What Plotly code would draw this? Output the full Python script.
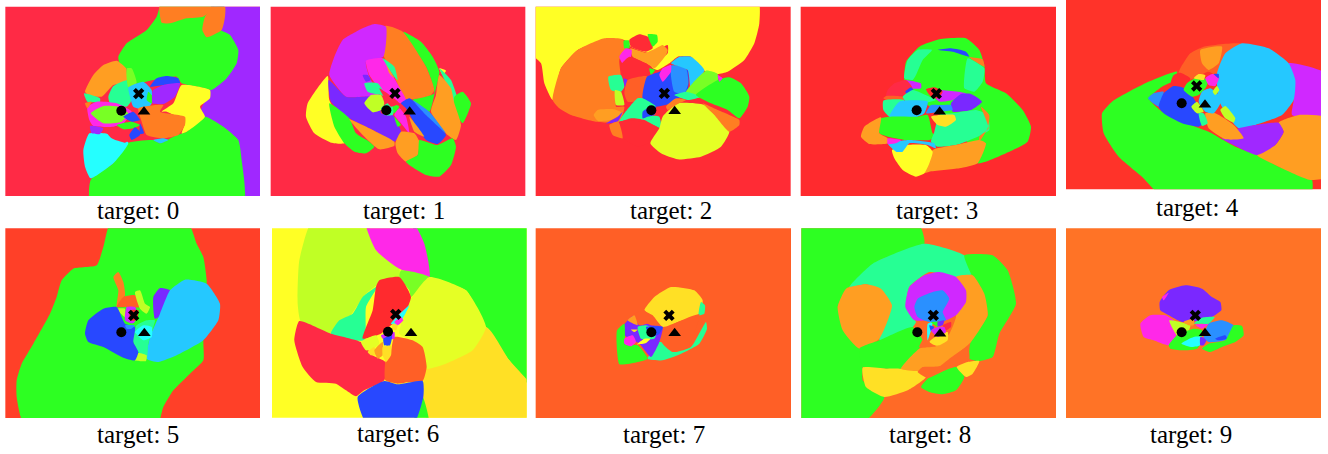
import plotly.graph_objects as go

WIDTH, HEIGHT = 1328, 454
W = 1000  # marks a frame corner outside the panel, clamped to the panel edge when drawn

TARGETS = [0, 1, 2, 3, 4, 5, 6, 7, 8, 9]
CROP_LEFT = [0, 266, 531, 796, 1062, 0, 266, 531, 796, 1062]
CROP_TOP = [0, 0, 0, 0, 0, 227, 227, 227, 227, 227]
X_RANGE = [(16, 780), (14, 778), (14, 779), (14, 780), (12, 777), (16, 780), (18, 782), (14, 780), (16, 780), (12, 777)]
Y_RANGE = [(588, 20), (588, 20), (588, 20), (588, 20), (568, 0), (573, 4), (572, 4), (573, 4), (573, 4), (573, 4)]
LABEL_X = [138, 404, 671, 937, 1197, 138, 398, 664, 930, 1191]
LABEL_Y = [210, 210, 210, 210, 207, 434, 433, 434, 434, 434]

CIRCLE_X = [364, 361, 361, 362, 359, 364, 366, 361, 364, 359]
CIRCLE_Y = [332, 331, 331, 331, 310, 316, 314, 316, 316, 316]
CROSS_X = [416, 387, 400, 421, 404, 401, 389, 414, 412, 400]
CROSS_Y = [281, 280, 280, 281, 258, 265, 262, 265, 265, 265]
TRI_X = [432, 431, 431, 431, 429, 433, 435, 431, 432, 429]
TRI_Y = [335, 335, 334, 335, 314, 319, 319, 319, 320, 319]

PALETTE = {
    "crimson": "#FF2A45", "rose": "#FF2B35", "red": "#FF2A2E", "scarlet": "#FF3329", "vermil": "#FF4028",
    "redorange": "#FF5F26", "tangerine": "#FF6A26", "pumpkin": "#FF7326", "orange": "#FF7E22", "amber": "#FF9E22",
    "gold": "#FFE025", "yellow": "#FFFF25", "yelime": "#E5FF25", "lime": "#C0FF25", "chart": "#78FF25",
    "green": "#2DFF22", "teal": "#26FF94", "cyan": "#25FFFF", "sky": "#25C8FF", "azure": "#2A90FF",
    "blue": "#2848FF", "violet": "#7A28FF", "purple": "#A028FF", "orchid": "#D028FF", "magenta": "#FF28E8",
}

BACKGROUND = ["crimson", "crimson", "rose", "red", "scarlet", "vermil", "yellow", "redorange", "tangerine", "pumpkin"]

REGIONS_0 = [
    ("purple", [(640, -W), (W, -W), (W, W), (700, W), (600, 340), (630, 270)]),
    ("green", [(490, -W), (470, 50), (440, 90), (380, 130), (355, 170), (360, 195), (385, 210), (405, 250), (460, 240), (530, 230), (545, 250), (600, 262), (635, 270), (680, 235), (710, 190), (715, 150), (690, 105), (655, 85), (675, -W)]),
    ("orange", [(478, 30), (485, 68), (510, 70), (560, 55), (610, 50), (640, 25), (640, -W), (480, -W)]),
    ("orange", [(640, 20), (675, 20), (675, 50), (665, 90), (620, 112), (607, 90), (615, 50)]),
    ("green", [(272, W), (272, 540), (340, 490), (380, 430), (460, 420), (480, 430), (530, 405), (560, 395), (615, 350), (670, 380), (715, 420), (725, 480), (730, W)]),
    ("cyan", [(268, 400), (250, 450), (255, 500), (272, 535), (340, 490), (385, 428), (315, 400)]),
    ("amber", [(255, 275), (280, 225), (310, 195), (350, 182), (378, 205), (380, 245), (340, 255), (305, 290), (265, 285)]),
    ("teal", [(252, 280), (300, 295), (300, 305), (262, 305)]),
    ("teal", [(325, 290), (340, 258), (385, 240), (395, 300), (380, 320), (330, 310)]),
    ("chart", [(380, 205), (395, 205), (410, 250), (385, 262)]),
    ("sky", [(385, 262), (430, 245), (455, 270), (455, 310), (440, 330), (400, 320), (390, 290)]),
    ("green", [(445, 275), (458, 290), (455, 310), (440, 300)]),
    ("blue", [(450, 260), (470, 235), (500, 228), (535, 235), (540, 250), (490, 255)]),
    ("purple", [(458, 272), (490, 255), (540, 250), (525, 290), (490, 312), (458, 310)]),
    ("yellow", [(485, 335), (520, 310), (545, 255), (630, 270), (630, 295), (600, 320), (615, 350), (560, 395), (545, 400), (555, 365), (500, 335)]),
    ("orange", [(415, 325), (490, 315), (480, 335), (555, 350), (555, 375), (535, 405), (490, 415), (440, 405), (425, 365)]),
    ("sky", [(460, 420), (490, 415), (505, 420), (480, 430)]),
    ("magenta", [(262, 320), (290, 305), (350, 310), (395, 335), (370, 370), (340, 380), (280, 378), (268, 360)]),
    ("chart", [(272, 340), (310, 318), (355, 320), (385, 340), (365, 365), (310, 370)]),
    ("orange", [(255, 310), (275, 305), (262, 325)]),
    ("purple", [(270, 378), (310, 385), (300, 402), (275, 400)]),
    ("crimson", [(315, 390), (345, 382), (385, 385), (388, 420), (375, 428), (335, 415)]),
    ("blue", [(370, 350), (400, 335), (420, 360), (395, 365)]),
    ("green", [(350, 375), (395, 365), (420, 375), (400, 385), (370, 388)]),
    ("blue", [(388, 405), (405, 382), (420, 395), (420, 405), (395, 420)]),
    ("blue", [(420, 370), (432, 400), (420, 402)]),
]

REGIONS_1 = [
    ("yellow", [(185, 228), (125, 310), (120, 350), (145, 400), (195, 428), (235, 430), (245, 400), (190, 300)]),
    ("yellow", [(520, 205), (540, 212), (530, 225)]),
    ("teal", [(520, 205), (555, 240), (590, 350), (570, 330), (540, 250)]),
    ("green", [(590, 275), (615, 310), (590, 370), (565, 330), (565, 290)]),
    ("green", [(412, 95), (465, 125), (500, 170), (520, 215), (505, 285), (490, 335), (440, 300), (505, 280), (480, 200)]),
    ("orange", [(358, 78), (410, 95), (480, 200), (505, 270), (495, 285), (420, 298), (385, 230), (350, 160)]),
    ("amber", [(520, 225), (555, 265), (565, 310), (585, 375), (570, 420), (545, 405), (495, 335), (510, 285)]),
    ("orchid", [(190, 225), (205, 170), (230, 120), (290, 85), (325, 72), (360, 80), (352, 170), (300, 185), (310, 230), (340, 290), (290, 290), (240, 290)]),
    ("violet", [(188, 240), (240, 290), (295, 290), (345, 290), (345, 340), (380, 345), (405, 395), (385, 425), (330, 395), (250, 355), (195, 305)]),
    ("green", [(190, 310), (250, 355), (270, 400), (310, 425), (325, 440), (300, 460), (265, 455), (235, 430), (205, 380)]),
    ("amber", [(250, 358), (330, 395), (385, 425), (385, 437), (340, 448), (290, 405)]),
    ("magenta", [(300, 182), (350, 175), (385, 235), (405, 270), (420, 300), (400, 310), (340, 265), (310, 225)]),
    ("amber", [(360, 190), (385, 235), (370, 220)]),
    ("teal", [(350, 175), (385, 200), (395, 240), (385, 230)]),
    ("violet", [(290, 225), (305, 225), (315, 240), (300, 245)]),
    ("teal", [(295, 250), (335, 250), (360, 290), (345, 285), (305, 275)]),
    ("lime", [(295, 310), (315, 285), (345, 285), (355, 310), (345, 330), (320, 337)]),
    ("teal", [(345, 325), (365, 310), (385, 320), (380, 345), (355, 345)]),
    ("green", [(380, 310), (400, 320), (385, 340)]),
    ("crimson", [(340, 265), (400, 310), (375, 320)]),
    ("magenta", [(385, 345), (400, 325), (420, 350), (430, 400), (405, 370)]),
    ("green", [(385, 350), (405, 375), (395, 380)]),
    ("blue", [(405, 310), (430, 295), (480, 340), (540, 405), (515, 432), (480, 420), (445, 370), (420, 325)]),
    ("azure", [(440, 300), (490, 335), (540, 400), (480, 345)]),
    ("amber", [(430, 350), (475, 410), (445, 395)]),
    ("amber", [(405, 395), (445, 400), (460, 425), (455, 465), (420, 485), (395, 460), (388, 430)]),
    ("green", [(480, 425), (515, 435), (560, 415), (570, 440), (555, 495), (520, 530), (480, 525), (420, 485), (455, 465), (460, 420)]),
]

REGIONS_2 = [
    ("yellow", [(-W, -W), (680, -W), (685, 70), (670, 130), (640, 180), (590, 215), (560, 222), (515, 210), (480, 170), (440, 170), (415, 190), (380, 210), (360, 200), (410, 160), (410, 135), (360, 160), (300, 140), (280, 120), (220, 120), (140, 150), (90, 205), (65, 300), (40, 250), (30, 190), (-W, 150)]),
    ("orange", [(65, 300), (90, 205), (140, 150), (220, 115), (275, 118), (285, 145), (265, 180), (270, 235), (255, 320), (280, 320), (265, 365), (195, 365), (120, 345), (85, 325)]),
    ("amber", [(188, 345), (200, 330), (250, 328), (275, 340), (240, 360), (200, 362)]),
    ("violet", [(225, 370), (260, 350), (275, 335), (260, 365)]),
    ("green", [(278, 122), (295, 122), (295, 145), (280, 145)]),
    ("rose", [(295, 120), (325, 103), (360, 115), (365, 145), (345, 155), (300, 140)]),
    ("green", [(350, 103), (378, 105), (380, 125), (365, 140)]),
    ("amber", [(298, 145), (345, 158), (375, 145), (395, 135), (410, 150), (405, 165), (370, 205), (345, 190), (305, 170)]),
    ("magenta", [(265, 170), (285, 145), (302, 150), (300, 170), (275, 190)]),
    ("rose", [(270, 195), (295, 170), (345, 190), (365, 205), (345, 230), (285, 235)]),
    ("teal", [(232, 230), (270, 225), (280, 260), (270, 275), (240, 270)]),
    ("violet", [(278, 235), (290, 240), (282, 262)]),
    ("lime", [(252, 270), (270, 275), (280, 315), (255, 315)]),
    ("redorange", [(290, 240), (345, 228), (360, 240), (335, 300), (290, 305), (280, 280)]),
    ("green", [(355, 205), (372, 210), (360, 225)]),
    ("blue", [(348, 230), (385, 215), (415, 200), (430, 215), (470, 210), (470, 270), (420, 310), (375, 320), (335, 295)]),
    ("azure", [(420, 197), (465, 205), (472, 250), (460, 280), (430, 275)]),
    ("magenta", [(385, 225), (395, 205), (420, 195), (420, 215), (395, 245)]),
    ("sky", [(420, 190), (445, 170), (480, 170), (520, 210), (480, 270), (470, 210)]),
    ("chart", [(465, 275), (525, 212), (560, 222), (560, 245), (525, 270), (510, 290), (470, 295)]),
    ("teal", [(430, 285), (465, 275), (510, 290), (470, 300)]),
    ("green", [(495, 285), (560, 240), (595, 232), (630, 250), (655, 290), (650, 320), (625, 355), (590, 330), (540, 310)]),
    ("magenta", [(560, 225), (575, 235), (565, 245)]),
    ("teal", [(300, 315), (320, 295), (335, 295), (375, 320), (350, 345), (385, 350), (390, 385), (340, 360), (300, 355), (265, 365), (280, 340)]),
    ("blue", [(335, 335), (350, 325), (375, 320), (370, 345), (350, 350), (335, 355)]),
    ("rose", [(265, 365), (340, 365), (385, 385), (360, 425), (320, 440), (285, 420), (260, 395)]),
    ("orange", [(235, 375), (262, 365), (275, 415), (245, 405)]),
    ("yelime", [(395, 350), (440, 310), (520, 315), (570, 365), (595, 395), (570, 440), (510, 470), (440, 478), (390, 460), (358, 430), (385, 385)]),
    ("orange", [(515, 310), (560, 330), (625, 360), (625, 375), (595, 395), (550, 345)]),
    ("orange", [(405, 320), (435, 295), (465, 300), (440, 312), (410, 330)]),
]

REGIONS_3 = [
    ("green", [(325, 240), (330, 185), (370, 140), (430, 118), (510, 115), (550, 150), (565, 195), (570, 250), (630, 280), (680, 330), (705, 380), (695, 425), (630, 460), (545, 490), (500, 400), (340, 270)]),
    ("teal", [(325, 235), (335, 180), (365, 150), (408, 150), (380, 180), (360, 225), (350, 240)]),
    ("teal", [(515, 175), (565, 205), (560, 245), (535, 275), (505, 265), (505, 230)]),
    ("orange", [(520, 172), (560, 178), (565, 200)]),
    ("blue", [(425, 150), (465, 145), (510, 155), (520, 170), (470, 155)]),
    ("orchid", [(325, 240), (375, 250), (375, 265), (345, 265)]),
    ("crimson", [(275, 270), (295, 250), (330, 240), (350, 265), (325, 285), (270, 288)]),
    ("blue", [(328, 275), (345, 262), (352, 270), (335, 285)]),
    ("redorange", [(262, 295), (270, 288), (320, 290), (325, 300), (270, 300)]),
    ("teal", [(262, 302), (325, 300), (295, 340), (280, 350), (262, 330)]),
    ("teal", [(320, 290), (350, 270), (400, 290), (420, 300), (380, 310), (330, 305)]),
    ("orchid", [(410, 270), (510, 280), (470, 300), (430, 305), (410, 285)]),
    ("red", [(390, 268), (415, 262), (440, 275), (425, 295), (405, 290)]),
    ("violet", [(465, 310), (495, 282), (525, 282), (558, 305), (525, 330), (470, 335)]),
    ("sky", [(280, 350), (310, 305), (395, 305), (385, 340), (365, 350)]),
    ("azure", [(390, 340), (405, 315), (435, 315), (465, 315), (470, 330), (430, 335)]),
    ("green", [(250, 400), (255, 355), (285, 350), (365, 350), (395, 345), (410, 400), (420, 410), (400, 420), (330, 420), (275, 410)]),
    ("teal", [(430, 345), (470, 340), (540, 330), (575, 345), (580, 390), (545, 410), (480, 435), (425, 440), (405, 425), (415, 395)]),
    ("orange", [(555, 320), (580, 345), (575, 385), (550, 425), (550, 410), (578, 385)]),
    ("gold", [(405, 350), (430, 345), (475, 345), (480, 360), (450, 380), (425, 375)]),
    ("amber", [(195, 410), (205, 380), (255, 352), (250, 400), (275, 415), (275, 430), (220, 432)]),
    ("amber", [(380, 520), (410, 450), (480, 435), (550, 420), (570, 430), (545, 490), (490, 505), (400, 515)]),
    ("yellow", [(288, 450), (330, 435), (390, 435), (410, 455), (400, 490), (385, 520), (360, 530), (320, 510), (295, 475)]),
    ("sky", [(275, 430), (340, 420), (415, 430), (420, 445), (395, 435), (340, 430), (320, 455), (300, 455)]),
    ("magenta", [(275, 415), (315, 420), (300, 430), (275, 432)]),
]

REGIONS_4 = [
    ("green", [(120, 340), (150, 305), (250, 250), (345, 215), (340, 240), (300, 260), (260, 295), (300, 335), (400, 380), (440, 395), (520, 440), (585, 465), (650, 500), (750, 540), (745, W), (305, W), (240, 530), (170, 470), (125, 400)]),
    ("redorange", [(355, 205), (385, 160), (425, 140), (540, 132), (470, 230), (440, 215), (380, 240), (350, 220)]),
    ("amber", [(415, 150), (480, 140), (470, 190), (440, 210), (420, 190)]),
    ("red", [(325, 255), (335, 225), (355, 218), (385, 235), (370, 260), (345, 260)]),
    ("orchid", [(680, 190), (W, 225), (W, 355), (690, 345), (695, 300)]),
    ("sky", [(540, 130), (620, 145), (680, 190), (700, 240), (695, 300), (660, 345), (580, 375), (530, 385), (495, 345), (470, 300), (465, 220), (490, 160)]),
    ("amber", [(585, 465), (640, 435), (665, 395), (650, 368), (710, 345), (W, 355), (W, 530), (745, 540), (650, 500)]),
    ("purple", [(480, 415), (530, 385), (600, 372), (650, 368), (665, 395), (640, 435), (585, 465), (525, 440)]),
    ("amber", [(430, 340), (460, 340), (515, 375), (545, 415), (490, 418), (440, 385)]),
    ("azure", [(258, 295), (275, 280), (305, 275), (290, 320)]),
    ("blue", [(290, 320), (305, 280), (335, 258), (370, 265), (395, 295), (420, 340), (425, 370), (410, 380), (360, 370), (305, 340)]),
    ("green", [(365, 270), (375, 250), (400, 235), (440, 240), (430, 265), (410, 285), (390, 290)]),
    ("gold", [(395, 235), (410, 222), (430, 225), (425, 240)]),
    ("magenta", [(430, 235), (450, 222), (472, 230), (460, 258), (440, 255)]),
    ("blue", [(455, 222), (470, 222), (470, 235)]),
    ("sky", [(410, 305), (420, 275), (445, 265), (470, 285), (475, 310), (455, 340), (430, 335)]),
    ("lime", [(452, 275), (465, 258), (472, 270), (460, 285)]),
    ("lime", [(388, 320), (405, 305), (425, 335), (405, 340)]),
    ("lime", [(475, 330), (490, 318), (520, 355), (515, 368), (490, 355)]),
    ("teal", [(410, 340), (425, 340), (437, 370), (420, 378)]),
]

REGIONS_5 = [
    ("green", [(335, -W), (560, -W), (590, 50), (610, 90), (620, 160), (618, 260), (610, 340), (610, 400), (570, 440), (520, 490), (490, 540), (470, W), (75, W), (50, 510), (50, 460), (65, 410), (100, 350), (150, 260), (170, 210), (185, 160), (220, 125), (290, 115), (310, 60)]),
    ("orange", [(340, 150), (355, 135), (370, 165), (375, 205), (350, 240), (355, 190)]),
    ("redorange", [(350, 240), (370, 210), (405, 205), (420, 240), (380, 240)]),
    ("lime", [(405, 195), (420, 190), (435, 230), (450, 240), (440, 260), (420, 245)]),
    ("lime", [(350, 245), (375, 245), (375, 270)]),
    ("violet", [(460, 210), (480, 183), (510, 190), (490, 260), (465, 275)]),
    ("sky", [(510, 190), (555, 158), (620, 170), (660, 230), (655, 280), (610, 340), (530, 385), (475, 405), (440, 395), (450, 330), (480, 260)]),
    ("teal", [(400, 320), (410, 295), (440, 280), (465, 280), (460, 300), (445, 350), (440, 395), (415, 375), (400, 345)]),
    ("cyan", [(405, 315), (430, 295), (455, 300), (455, 330), (430, 340)]),
    ("lime", [(405, 400), (415, 378), (440, 385), (438, 402)]),
    ("blue", [(255, 320), (265, 280), (310, 245), (350, 240), (375, 290), (405, 300), (400, 345), (415, 375), (405, 400), (370, 392), (310, 360), (265, 345)]),
    ("azure", [(375, 295), (405, 295), (395, 305), (380, 305)]),
    ("orchid", [(380, 240), (405, 240), (415, 280), (395, 290), (375, 280)]),
    ("red", [(390, 250), (415, 250), (410, 280), (390, 280)]),
    ("green", [(378, 285), (400, 290), (418, 260), (425, 280), (405, 295)]),
]

REGIONS_6 = [
    ("green", [(435, -W), (W, -W), (W, 490), (730, 400), (660, 300), (600, 190), (490, 150), (480, 80)]),
    ("gold", [(480, 425), (660, 300), (730, 400), (W, 490), (W, W), (490, W), (470, 500)]),
    ("green", [(470, 510), (490, W), (440, W)]),
    ("lime", [(140, -W), (300, -W), (330, 70), (400, 125), (400, 150), (340, 170), (300, 200), (250, 270), (195, 320), (105, 285), (95, 230), (100, 100)]),
    ("magenta", [(298, -W), (435, -W), (475, 50), (490, 150), (400, 125), (330, 70)]),
    ("chart", [(405, 130), (490, 150), (435, 210), (430, 190), (400, 150)]),
    ("yelime", [(490, 150), (600, 190), (660, 300), (620, 370), (540, 410), (480, 425), (470, 360), (440, 340), (400, 320), (420, 250), (435, 215)]),
    ("teal", [(335, 178), (300, 240), (295, 340), (195, 320), (220, 280), (260, 260), (290, 210)]),
    ("red", [(340, 160), (400, 150), (435, 210), (410, 270), (375, 295), (345, 320), (290, 335), (320, 250), (330, 180)]),
    ("cyan", [(375, 290), (430, 235), (410, 275), (395, 295)]),
    ("magenta", [(385, 285), (405, 270), (412, 280), (395, 295)]),
    ("crimson", [(85, 340), (100, 282), (195, 320), (285, 345), (320, 385), (358, 405), (355, 460), (295, 490), (270, 508), (240, 490), (210, 470), (150, 465), (110, 420)]),
    ("redorange", [(385, 330), (440, 340), (470, 360), (482, 420), (470, 462), (430, 465), (395, 470), (358, 460), (358, 405), (375, 370)]),
    ("blue", [(275, 510), (355, 462), (395, 472), (470, 462), (472, 510), (440, W), (305, W)]),
    ("yelime", [(285, 345), (330, 325), (340, 350), (320, 365), (300, 370)]),
    ("gold", [(305, 375), (325, 360), (330, 385), (315, 385)]),
    ("amber", [(325, 370), (350, 345), (350, 385), (335, 395)]),
    ("gold", [(350, 360), (375, 355), (375, 385), (360, 405), (350, 385)]),
    ("orchid", [(345, 325), (385, 315), (385, 335), (350, 335)]),
    ("blue", [(352, 335), (378, 325), (372, 355), (355, 355)]),
    ("gold", [(380, 290), (395, 295), (390, 310), (378, 305)]),
]

REGIONS_7 = [
    ("gold", [(340, 250), (370, 210), (420, 180), (490, 190), (515, 220), (505, 260), (440, 285), (395, 300), (365, 265)]),
    ("teal", [(510, 225), (522, 235), (520, 260), (503, 265)]),
    ("teal", [(350, 395), (385, 345), (390, 345), (430, 375), (480, 360), (510, 310), (525, 285), (528, 305), (505, 350), (440, 385), (395, 400)]),
    ("redorange", [(390, 315), (440, 285), (505, 262), (490, 320), (470, 360), (425, 375), (395, 350)]),
    ("violet", [(278, 295), (310, 265), (340, 285), (360, 295), (395, 300), (385, 345), (360, 390), (325, 350), (280, 325)]),
    ("redorange", [(305, 265), (340, 250), (360, 285), (325, 295)]),
    ("amber", [(290, 280), (310, 265), (320, 295)]),
    ("green", [(258, 310), (280, 290), (285, 350), (320, 355), (350, 395), (295, 410), (265, 412), (258, 370)]),
    ("magenta", [(280, 335), (305, 325), (315, 345), (300, 358), (280, 350)]),
    ("teal", [(320, 300), (345, 295), (380, 310), (370, 335), (330, 335)]),
    ("yellow", [(318, 352), (340, 335), (358, 335), (345, 348)]),
    ("gold", [(300, 308), (320, 308), (310, 315)]),
    ("blue", [(345, 300), (395, 300), (385, 320), (360, 330)]),
]

REGIONS_8 = [
    ("green", [(-W, -W), (362, -W), (385, 50), (250, 100), (160, 180), (125, 240), (190, 365), (200, 420), (200, 460), (265, 510), (190, W), (-W, W)]),
    ("teal", [(160, 180), (230, 110), (385, 50), (505, 85), (530, 140), (480, 150), (400, 135), (340, 180), (330, 240), (360, 285), (350, 300), (250, 340), (285, 240), (255, 190), (210, 172)]),
    ("amber", [(125, 240), (150, 185), (210, 172), (255, 185), (288, 235), (250, 335), (190, 365), (140, 310)]),
    ("green", [(505, 85), (590, 85), (635, 130), (660, 230), (610, 320), (590, 390), (550, 402), (520, 395), (525, 340), (575, 265), (550, 180), (525, 140)]),
    ("green", [(190, 365), (250, 340), (350, 300), (380, 340), (370, 365), (315, 425), (270, 425), (200, 420)]),
    ("gold", [(200, 422), (270, 425), (310, 425), (365, 430), (390, 450), (335, 490), (265, 510), (210, 480)]),
    ("green", [(375, 480), (395, 455), (480, 420), (505, 450), (480, 490), (440, 502), (400, 495)]),
    ("amber", [(315, 425), (370, 365), (420, 355), (460, 320), (480, 270), (480, 150), (530, 145), (565, 200), (575, 265), (525, 345), (490, 375), (440, 415), (370, 432)]),
    ("tangerine", [(365, 435), (380, 420), (430, 418), (460, 395), (515, 360), (520, 395), (465, 420), (395, 453)]),
    ("gold", [(482, 420), (515, 405), (550, 402), (530, 440), (510, 450)]),
    ("orchid", [(328, 240), (340, 180), (385, 145), (430, 135), (480, 150), (510, 190), (510, 225), (480, 265), (450, 280), (400, 280), (355, 280)]),
    ("azure", [(355, 240), (365, 215), (410, 195), (440, 190), (460, 215), (440, 255), (450, 280), (400, 285), (365, 270)]),
    ("gold", [(400, 345), (425, 325), (455, 315), (455, 340), (430, 355), (410, 355)]),
    ("tangerine", [(370, 360), (400, 310), (400, 345), (420, 358)]),
    ("cyan", [(395, 290), (410, 285), (405, 310), (395, 340)]),
    ("green", [(405, 285), (430, 285), (425, 300)]),
    ("blue", [(400, 295), (415, 300), (405, 312)]),
    ("violet", [(425, 285), (445, 280), (440, 295), (425, 298)]),
    ("crimson", [(440, 295), (465, 285), (465, 300), (450, 310)]),
    ("orchid", [(405, 310), (425, 300), (445, 300), (450, 315), (425, 330)]),
]

REGIONS_9 = [
    ("violet", [(293, 225), (320, 190), (370, 175), (420, 185), (450, 210), (475, 225), (478, 250), (440, 275), (360, 285), (320, 265), (295, 250)]),
    ("magenta", [(300, 210), (320, 197), (305, 220)]),
    ("magenta", [(235, 290), (265, 265), (310, 265), (335, 280), (345, 320), (320, 355), (275, 340), (245, 330)]),
    ("lime", [(322, 280), (385, 295), (375, 320), (345, 325)]),
    ("amber", [(365, 285), (395, 275), (395, 295), (380, 295)]),
    ("teal", [(395, 290), (420, 272), (458, 270), (440, 290), (415, 290)]),
    ("magenta", [(400, 293), (440, 292), (420, 305)]),
    ("green", [(320, 355), (345, 325), (395, 305), (420, 310), (415, 350), (405, 365), (360, 370), (325, 365)]),
    ("cyan", [(358, 350), (395, 330), (420, 330), (415, 355), (390, 360)]),
    ("violet", [(415, 330), (435, 335), (425, 355), (415, 355)]),
    ("azure", [(440, 290), (480, 280), (515, 295), (510, 320), (490, 340), (440, 345), (425, 330)]),
    ("blue", [(460, 335), (490, 325), (495, 335), (470, 340)]),
    ("green", [(420, 365), (440, 350), (490, 340), (515, 295), (540, 297), (545, 325), (520, 345), (480, 360), (445, 375)]),
]

ALL_REGIONS = [REGIONS_0, REGIONS_1, REGIONS_2, REGIONS_3, REGIONS_4, REGIONS_5, REGIONS_6, REGIONS_7, REGIONS_8, REGIONS_9]

fig = go.Figure()
layout = dict(
    width=WIDTH, height=HEIGHT, margin=dict(l=0, r=0, t=0, b=0),
    paper_bgcolor="white", plot_bgcolor="white", showlegend=False,
)
annotations = []

for i, target in enumerate(TARGETS):
    suffix = "" if i == 0 else str(i + 1)
    x0, x1 = X_RANGE[i]
    y_bottom, y_top = Y_RANGE[i]

    # axes run in zoomed crop units, so the domain follows from the crop origin
    layout["xaxis" + suffix] = dict(
        range=[x0, x1], visible=False, anchor="y" + suffix,
        domain=[(CROP_LEFT[i] + x0 / 3) / WIDTH, (CROP_LEFT[i] + x1 / 3) / WIDTH],
    )
    layout["yaxis" + suffix] = dict(
        range=[y_bottom, y_top], visible=False, anchor="x" + suffix,
        domain=[1 - (CROP_TOP[i] + y_bottom / 3) / HEIGHT, 1 - (CROP_TOP[i] + y_top / 3) / HEIGHT],
    )
    axes = dict(xaxis="x" + suffix, yaxis="y" + suffix)

    fig.add_trace(go.Scatter(
        x=[-W, W, W, -W, -W], y=[-W, -W, W, W, -W], mode="lines", fill="toself",
        fillcolor=PALETTE[BACKGROUND[i]], line=dict(width=0), hoverinfo="skip", **axes))

    for name, pts in ALL_REGIONS[i]:
        # frame corners sit just past the panel edge, far points would make the spline swing
        pts = [(min(max(x, x0 - 25), x1 + 25), min(max(y, y_top - 25), y_bottom + 25)) for x, y in pts]
        pts = pts + pts[:1]
        fig.add_trace(go.Scatter(
            x=[p[0] for p in pts], y=[p[1] for p in pts], mode="lines", fill="toself",
            fillcolor=PALETTE[name], line=dict(width=0, shape="spline", smoothing=0.5),
            hoverinfo="skip", **axes))

    for sx, sy, symbol, size in [(CIRCLE_X, CIRCLE_Y, "circle", 10), (CROSS_X, CROSS_Y, "x", 10), (TRI_X, TRI_Y, "triangle-up", 11)]:
        fig.add_trace(go.Scatter(
            x=[sx[i]], y=[sy[i]], mode="markers",
            marker=dict(symbol=symbol, size=size, color="black", line=dict(width=0)),
            hoverinfo="skip", **axes))

    annotations.append(dict(
        text=f"target: {target}", x=LABEL_X[i] / WIDTH, y=1 - LABEL_Y[i] / HEIGHT,
        xref="paper", yref="paper", xanchor="center", yanchor="middle", showarrow=False,
        font=dict(family="Liberation Serif", size=25, color="black"),
    ))

fig.update_layout(**layout, annotations=annotations)
# the page's default body margin would push the 1328x454 figure out of the window
fig.write_html("out.html", config=dict(displayModeBar=False), post_script="document.body.style.margin = '0';")
